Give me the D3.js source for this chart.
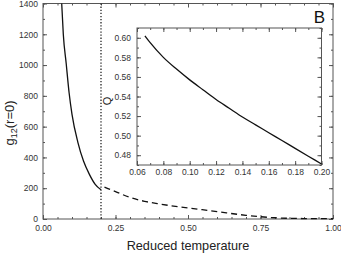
<!DOCTYPE html>
<html>
<head>
  <meta charset="UTF-8">
  <title>g12(r=0) vs reduced temperature</title>
  <style>
    body { margin: 0; background: #fff; }
    svg { display: block; font-family: "Liberation Sans", Arial, sans-serif; }
    .frame { fill: none; stroke: #555; stroke-width: 1; }
    .axis path { display: none; }
    .axis line { stroke: #555; }
    .axis text { fill: #333; }
  </style>
</head>
<body>
  <svg id="chart" width="341" height="253"></svg>
  <script src="https://cdn.jsdelivr.net/npm/d3@7/dist/d3.min.js"></script>
  <script>
    // main panel: solid branch (T < 0.2) and dashed branch (T > 0.2)
    var solidT = [0.0645, 0.070, 0.080, 0.090, 0.100, 0.120, 0.140, 0.160, 0.180, 0.200];
    var solidG = [1400, 1200, 1010, 820, 680, 500, 375, 290, 225, 190];
    var dashT = [0.212, 0.25, 0.30, 0.35, 0.40, 0.45, 0.50, 0.60, 0.70, 0.80, 0.90, 1.00];
    var dashG = [207, 178, 140, 115, 98, 84, 72, 48, 24, 8, 3, 2];
    var markT = 0.2;

    // inset: Q vs reduced temperature
    var insetT = [0.066, 0.07, 0.08, 0.09, 0.10, 0.11, 0.12, 0.13, 0.14, 0.15, 0.16, 0.17, 0.18, 0.19, 0.20];
    var insetQ = [0.602, 0.595, 0.580, 0.568, 0.557, 0.547, 0.537, 0.528, 0.519, 0.511, 0.503, 0.495, 0.487, 0.479, 0.471];

    var xTicks = [0, 0.25, 0.5, 0.75, 1.0];
    var yTicks = [0, 200, 400, 600, 800, 1000, 1200, 1400];
    var insetXTicks = [0.06, 0.08, 0.10, 0.12, 0.14, 0.16, 0.18, 0.20];
    var insetYTicks = [0.48, 0.50, 0.52, 0.54, 0.56, 0.58, 0.60];

    var svg = d3.select("#chart");

    var x = d3.scaleLinear().domain([0, 1]).range([43, 333]),
      y = d3.scaleLinear().domain([0, 1400]).range([219, 3.5]);

    function frameAxes(g, xs, ys, major, minorX, majorY, minorY, fs, pad) {
      var r = xs.range(), b = ys.range();
      // minor ticks, all four sides
      g.append("g").attr("class", "axis").attr("transform", "translate(0," + b[0] + ")")
        .call(d3.axisBottom(xs).tickValues(minorX).tickSize(-2).tickFormat(""));
      g.append("g").attr("class", "axis").attr("transform", "translate(0," + b[1] + ")")
        .call(d3.axisTop(xs).tickValues(minorX).tickSize(-2).tickFormat(""));
      g.append("g").attr("class", "axis").attr("transform", "translate(" + r[0] + ",0)")
        .call(d3.axisLeft(ys).tickValues(minorY).tickSize(-2).tickFormat(""));
      g.append("g").attr("class", "axis").attr("transform", "translate(" + r[1] + ",0)")
        .call(d3.axisRight(ys).tickValues(minorY).tickSize(-2).tickFormat(""));
      // major ticks with labels
      var bx = g.append("g").attr("class", "axis").attr("transform", "translate(0," + b[0] + ")")
        .call(d3.axisBottom(xs).tickValues(major.vals).tickSize(-4).tickPadding(pad[0]).tickFormat(major.fmt));
      var ly = g.append("g").attr("class", "axis").attr("transform", "translate(" + r[0] + ",0)")
        .call(d3.axisLeft(ys).tickValues(majorY.vals).tickSize(-4).tickPadding(pad[1]).tickFormat(majorY.fmt));
      g.append("g").attr("class", "axis").attr("transform", "translate(0," + b[1] + ")")
        .call(d3.axisTop(xs).tickValues(major.vals).tickSize(-4).tickFormat(""));
      g.append("g").attr("class", "axis").attr("transform", "translate(" + r[1] + ",0)")
        .call(d3.axisRight(ys).tickValues(majorY.vals).tickSize(-4).tickFormat(""));
      bx.selectAll("text").style("font-size", fs + "px");
      ly.selectAll("text").style("font-size", fs + "px");
      g.append("rect").attr("class", "frame")
        .attr("x", r[0]).attr("y", b[1]).attr("width", r[1] - r[0]).attr("height", b[0] - b[1]);
    }

    var main = svg.append("g");
    frameAxes(main, x, y,
      { vals: xTicks, fmt: d3.format(".2f") },
      d3.range(0, 1.0001, 0.05),
      { vals: yTicks, fmt: d3.format("d") },
      d3.range(0, 1401, 100), 8.5, [6, 5]);

    // dotted marker at T = 0.2
    main.append("line")
      .attr("x1", x(markT)).attr("x2", x(markT))
      .attr("y1", y(1400)).attr("y2", y(0))
      .attr("stroke", "#222").attr("stroke-width", 1.3)
      .attr("stroke-dasharray", "1.3,1.8");

    var line = d3.line().curve(d3.curveMonotoneX)
      .x(function (d) { return x(d[0]); })
      .y(function (d) { return y(d[1]); });

    main.append("path")
      .datum(d3.zip(solidT, solidG))
      .attr("d", line)
      .attr("fill", "none").attr("stroke", "#111").attr("stroke-width", 1.3);

    main.append("path")
      .datum(d3.zip(dashT, dashG))
      .attr("d", line)
      .attr("fill", "none").attr("stroke", "#111").attr("stroke-width", 1.3)
      .attr("stroke-dasharray", "6,4");

    // axis titles
    svg.append("text")
      .attr("x", 188).attr("y", 250)
      .attr("text-anchor", "middle")
      .style("font-size", "12.7px").attr("fill", "#222")
      .text("Reduced temperature");

    var yl = svg.append("text")
      .attr("transform", "translate(14,123) rotate(-90)")
      .attr("text-anchor", "middle")
      .style("font-size", "13px").attr("fill", "#222");
    yl.append("tspan").text("g");
    yl.append("tspan").attr("dy", 3).style("font-size", "9px").text("12");
    yl.append("tspan").attr("dy", -3).text("(r=0)");

    svg.append("text")
      .attr("x", 325).attr("y", 23)
      .attr("text-anchor", "end")
      .style("font-size", "17px").attr("fill", "#111")
      .text("B");

    // inset
    var ix = d3.scaleLinear().domain([0.06, 0.20]).range([137, 321.5]),
      iy = d3.scaleLinear().domain([0.47, 0.61]).range([165, 28]);

    var inset = svg.append("g");
    inset.append("rect")
      .attr("x", 137).attr("y", 28).attr("width", 184.5).attr("height", 137)
      .attr("fill", "#fff");

    frameAxes(inset, ix, iy,
      { vals: insetXTicks, fmt: d3.format(".2f") },
      d3.range(0.06, 0.2001, 0.01),
      { vals: insetYTicks, fmt: d3.format(".2f") },
      d3.range(0.47, 0.6101, 0.01), 8.5, [4, 6]);

    var iline = d3.line().curve(d3.curveMonotoneX)
      .x(function (d) { return ix(d[0]); })
      .y(function (d) { return iy(d[1]); });

    inset.append("path")
      .datum(d3.zip(insetT, insetQ))
      .attr("d", iline)
      .attr("fill", "none").attr("stroke", "#111").attr("stroke-width", 1.3);

    svg.append("text")
      .attr("transform", "translate(111,101) rotate(-90)")
      .attr("text-anchor", "middle")
      .style("font-size", "11px").attr("fill", "#222")
      .text("Q");
  </script>
</body>
</html>
